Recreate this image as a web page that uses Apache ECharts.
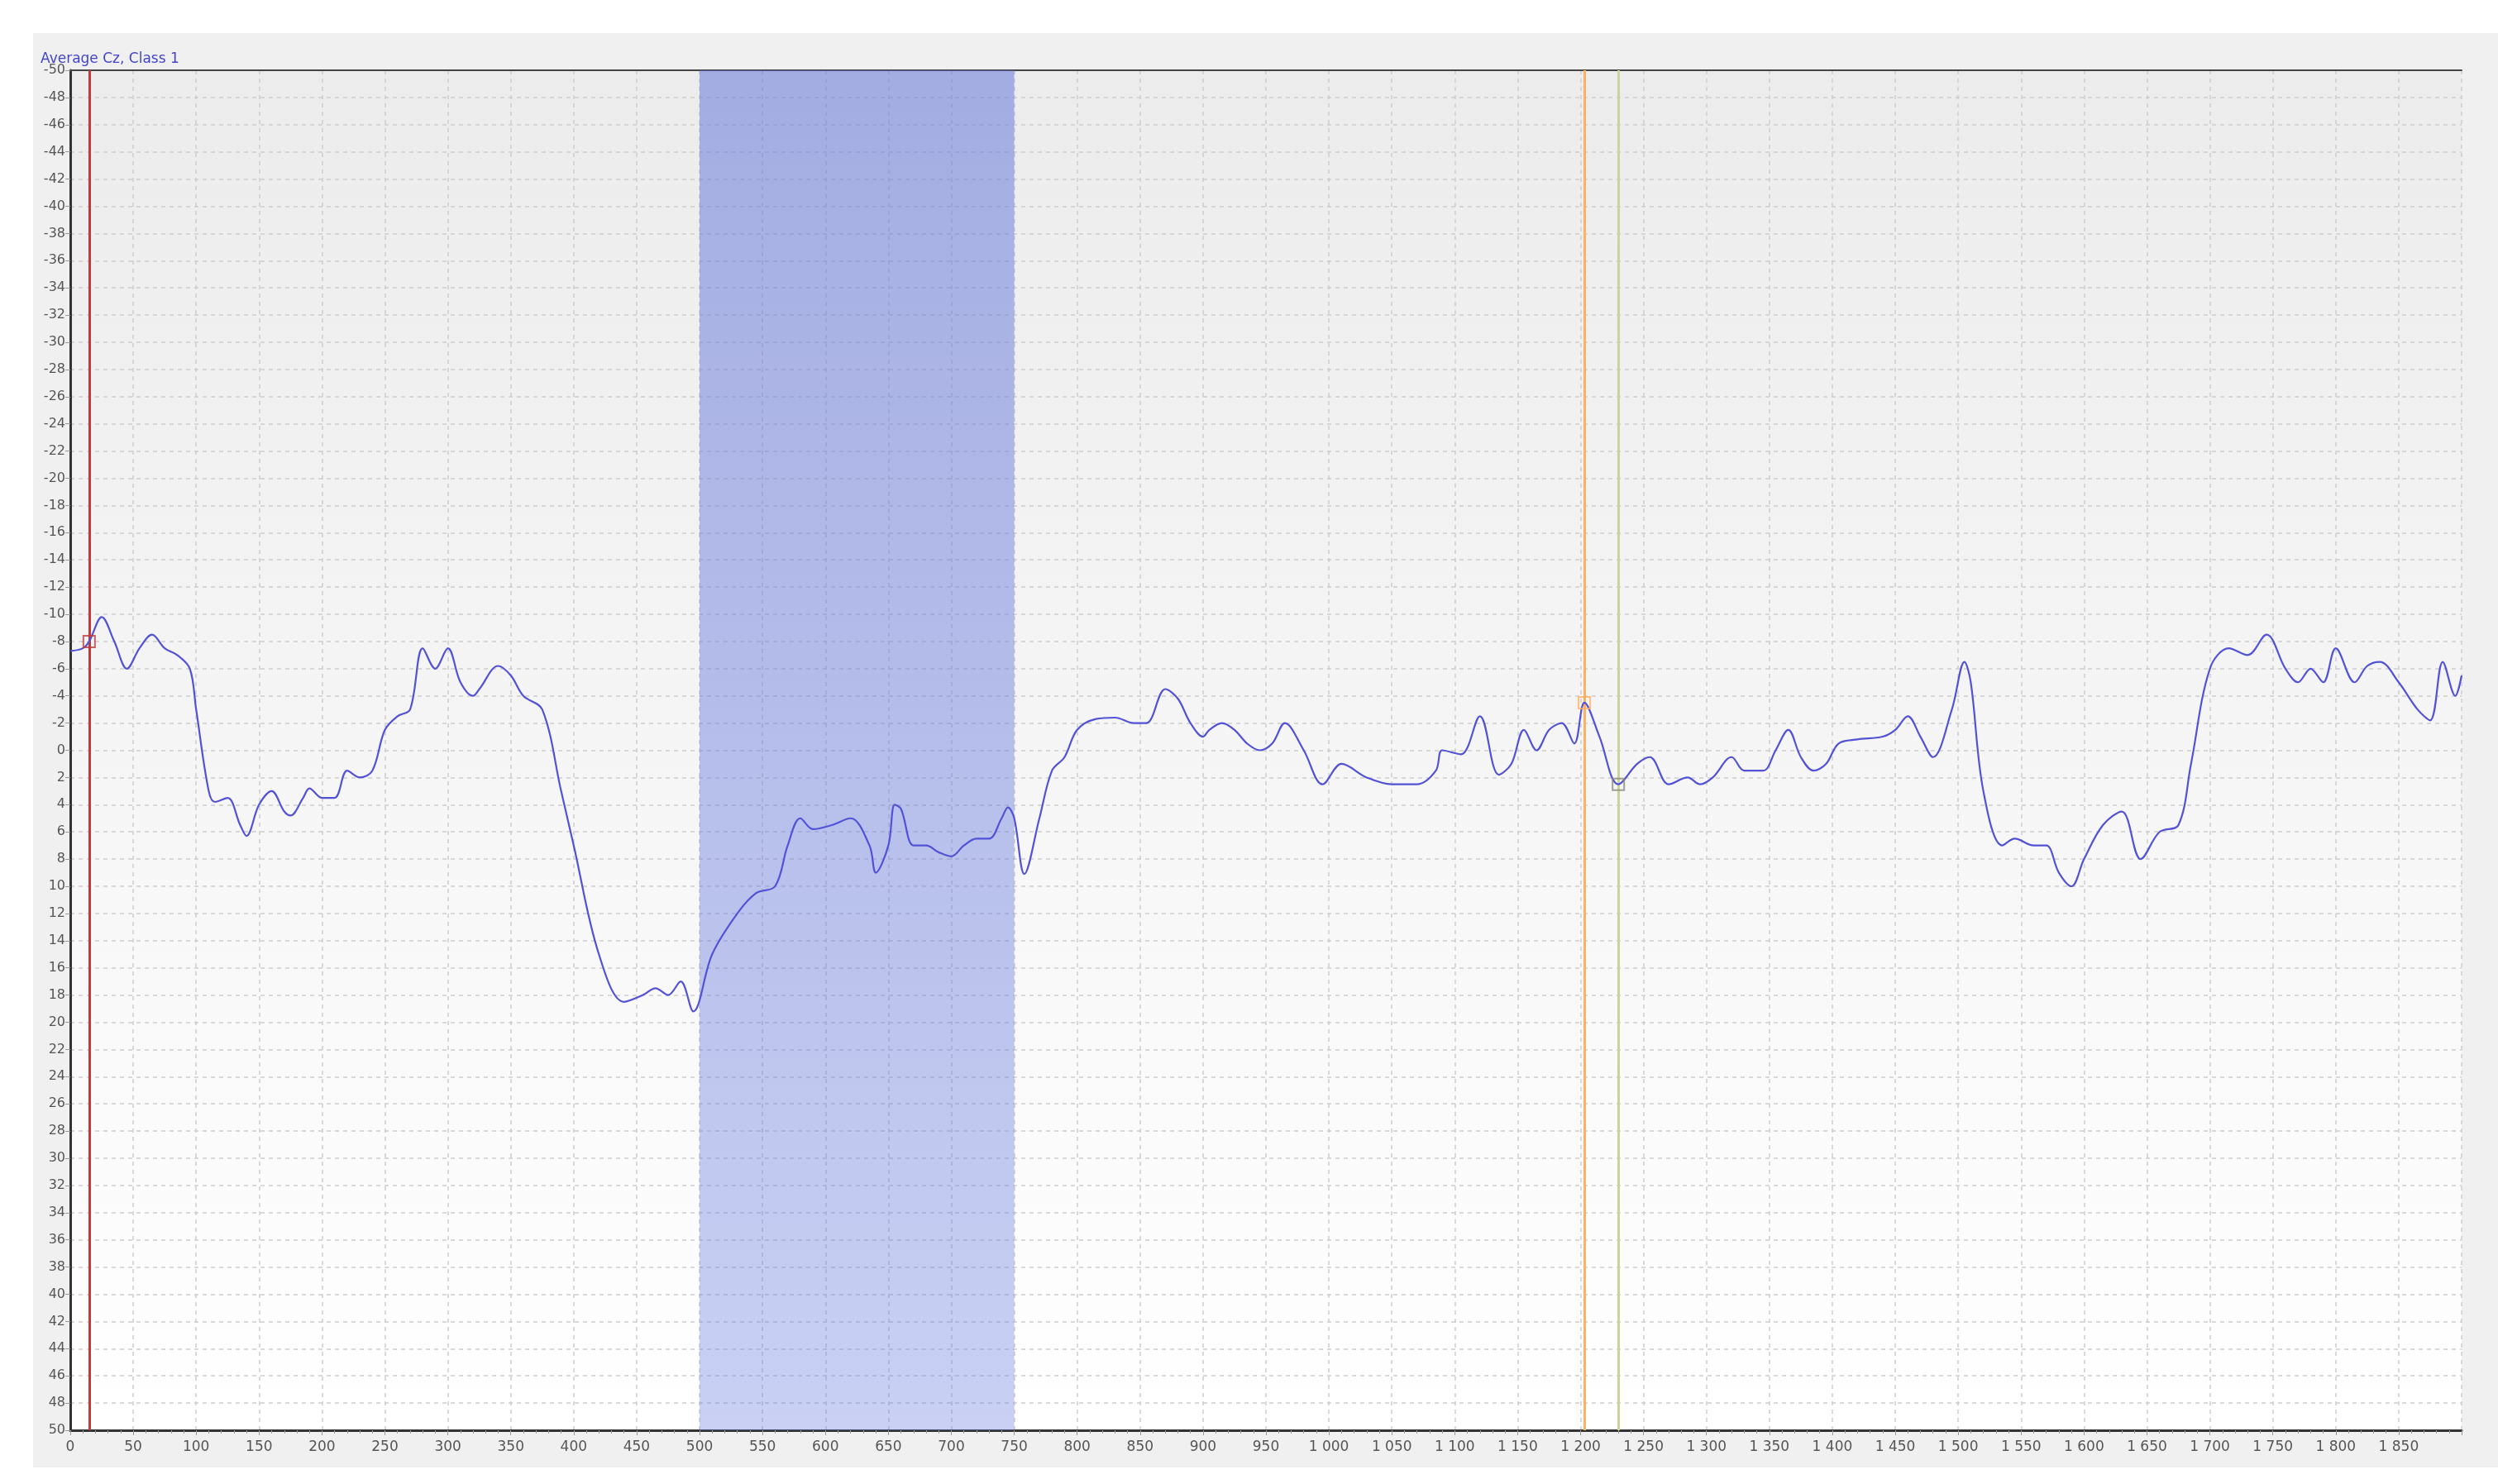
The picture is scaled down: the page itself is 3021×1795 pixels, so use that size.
<!DOCTYPE html>
<html>
<head>
<meta charset="utf-8">
<script src="https://cdn.jsdelivr.net/npm/echarts@6/dist/echarts.min.js"></script>
<style>html,body{margin:0;padding:0;background:#fff}#chart{width:3021px;height:1795px}</style>
</head>
<body>
<div id="chart"></div>
<script>
// time (ms) and amplitude
var times = [0,10,15,25,35,45,55,65,75,85,95,100,110,115,125,135,140,150,160,170,175,185,190,200,210,220,230,240,250,260,270,280,290,300,310,320,325,340,350,360,375,390,400,420,440,455,465,475,485,495,510,530,545,560,570,580,590,605,620,635,640,650,655,660,670,680,690,700,710,720,730,740,745,750,758,770,780,790,800,815,830,845,855,870,880,890,900,905,915,925,935,945,955,965,980,995,1010,1030,1050,1070,1085,1090,1105,1120,1135,1145,1155,1165,1175,1185,1195,1203,1215,1230,1245,1255,1270,1285,1295,1305,1320,1330,1345,1355,1365,1375,1385,1395,1405,1420,1440,1450,1460,1470,1480,1495,1505,1510,1520,1535,1545,1560,1570,1580,1590,1600,1615,1630,1645,1660,1675,1685,1700,1715,1730,1745,1760,1770,1780,1790,1800,1815,1825,1835,1850,1865,1875,1885,1895,1900]
var values = [-7.3,-7.5,-8,-9.8,-8,-6,-7.5,-8.5,-7.5,-7,-6,-3,3,3.8,3.5,5.5,6.3,4,3,4.5,4.8,3.5,2.8,3.5,3.5,1.5,2,1.5,-1.5,-2.5,-3,-7.5,-6,-7.5,-5,-4,-4.5,-6.2,-5.5,-4,-3,3,7,15,18.5,18,17.5,18,17,19.2,15,12,10.5,10,7,5,5.8,5.5,5,7,9,7,4,4.3,7,7,7.5,7.8,7,6.5,6.5,5,4.2,5,9.1,5,1.5,0.5,-1.5,-2.3,-2.4,-2,-2,-4.5,-3.8,-2,-1,-1.5,-2,-1.5,-0.5,0,-0.5,-2,0,2.5,1,2,2.5,2.5,1.5,0,0.3,-2.5,1.8,1,-1.5,0,-1.5,-2,-0.5,-3.5,-1,2.5,1,0.5,2.5,2,2.5,2,0.5,1.5,1.5,0,-1.5,0.5,1.5,1,-0.5,-0.8,-1,-1.5,-2.5,-1,0.5,-3,-6.5,-5,3,7,6.5,7,7,9,10,8,5.5,4.5,8,6,5.5,1,-6,-7.5,-7,-8.5,-6,-5,-6,-5,-7.5,-5,-6.2,-6.5,-5,-3,-2.2,-6.5,-4,-5.5]
var bandRange = [500, 750]
var cursorTimes = [15, 1203, 1230]
var cursorValues = [-8, -3.5, 2.5]
var cursorColors = ['#c23a3a', '#ffb060', '#c8d49a']

var myChart = echarts.init(document.getElementById('chart'))
var pts = times.map(function (t, i) { return [t, values[i]] })
var fmt = function (v) {
    var s = String(v)
    return s.length > 3 ? s.slice(0, s.length - 3) + ' ' + s.slice(-3) : s
}
var grid = {color: '#cdcdcd', type: [5, 5], width: 1.5}
option = {
    backgroundColor: '#fff',
    animation: false,
    graphic: [{
        type: 'rect', left: 40, top: 40, shape: {width: 2981, height: 1735},
        style: {fill: '#f0f0f0'}, z: -10
    }],
    title: {
        text: 'Average Cz, Class 1',
        left: 44, top: 58,
        textStyle: {color: '#4444cc', fontSize: 17, fontWeight: 'normal', fontFamily: 'DejaVu Sans'}
    },
    grid: {
        show: true,
        left: 85, right: 44, top: 85, bottom: 65,
        borderWidth: 0,
        backgroundColor: {
            type: 'linear', x: 0, y: 0, x2: 0, y2: 1,
            colorStops: [{offset: 0, color: '#ececec'}, {offset: 1, color: '#ffffff'}]
        }
    },
    xAxis: [{
        type: 'value', min: 0, max: 1900, interval: 50,
        axisLine: {onZero: false, lineStyle: {color: '#333', width: 3}},
        axisTick: {lineStyle: {color: '#999'}, length: 6},
        minorTick: {show: true, splitNumber: 5, length: 4, lineStyle: {color: '#999'}},
        axisLabel: {color: '#555', fontSize: 17, fontFamily: 'DejaVu Sans', showMaxLabel: false, formatter: fmt, margin: 12},
        splitLine: {show: true, lineStyle: grid}
    }, {
        type: 'value', min: 0, max: 1900, position: 'top',
        axisLine: {show: true, onZero: false, lineStyle: {color: '#444', width: 2}},
        axisTick: {show: false}, axisLabel: {show: false}, splitLine: {show: false}
    }],
    yAxis: {
        type: 'value', min: -50, max: 50, interval: 2, inverse: true,
        axisLine: {show: true, lineStyle: {color: '#333', width: 3}},
        axisTick: {lineStyle: {color: '#999'}, length: 6},
        axisLabel: {color: '#555', fontSize: 16, fontFamily: 'DejaVu Sans', margin: 6},
        splitLine: {lineStyle: grid}
    },
    series: [{
        type: 'line',
        data: pts,
        smooth: 0.35,
        showSymbol: false,
        lineStyle: {color: '#5252d6', width: 2.2},
        markArea: {
            silent: true,
            itemStyle: {
                color: {
                    type: 'linear', x: 0, y: 0, x2: 0, y2: 1,
                    colorStops: [{offset: 0, color: 'rgba(90,110,215,0.5)'}, {offset: 1, color: 'rgba(105,125,225,0.36)'}]
                }
            },
            data: [[{xAxis: bandRange[0]}, {xAxis: bandRange[1]}]]
        },
        markLine: {
            silent: true, symbol: 'none', label: {show: false},
            data: cursorTimes.map(function (t, i) {
                return {xAxis: t, lineStyle: {color: cursorColors[i], width: 3, type: 'solid'}}
            })
        },
        z: 5
    }, {
        type: 'scatter',
        data: cursorTimes.map(function (t, i) {
            return {value: [t, cursorValues[i]], itemStyle: {color: 'rgba(0,0,0,0)', borderColor: i == 2 ? '#8a8a7a' : cursorColors[i], borderWidth: 2}}
        }),
        symbol: 'rect', symbolSize: 14, z: 6
    }]
}
myChart.setOption(option)
</script>
</body>
</html>
